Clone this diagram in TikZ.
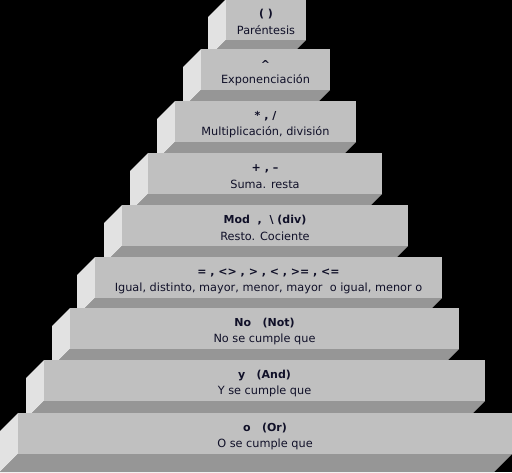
\documentclass[tikz,border=0pt]{standalone}
\usepackage{fontspec}
\setmainfont{DejaVu Sans}
\usepackage{tikz}
\usetikzlibrary{calc}
\definecolor{frontgray}{RGB}{192,192,192}
\definecolor{sidegray}{RGB}{226,226,226}
\definecolor{shadegray}{RGB}{150,150,150}
\definecolor{inkblue}{RGB}{16,16,40}

\tikzset{
  optext/.style={font=\fontsize{11}{12}\selectfont\bfseries, text=inkblue, inner sep=0pt},
  desctext/.style={font=\fontsize{11.3}{12}\selectfont, text=inkblue, inner sep=0pt}
}

\begin{document}
\begin{tikzpicture}[x=1pt, y=-1pt]
  % Background
  \fill[black] (0,0) rectangle (512,472);
  \useasboundingbox (0,0) rectangle (512,472);

  % Steps, top to bottom (lower steps overlap upper ones)
  \foreach \i/\xa/\xb/\ya/\op/\desc in {
    1/226/306/-1/{( )}/{Paréntesis},
    2/201/330/49/{\textasciicircum}/{Exponenciación},
    3/175/356/101/{* , \slash}/{Multiplicación, división},
    4/148/382/153/{+ , \textendash}/{Suma. resta},
    5/122/408/205/{Mod\ \ ,\ \ \textbackslash\ (div)}/{Resto. Cociente},
    6/95/442/257/{= , <> , > , < , >= , <=}/{Igual, distinto, mayor, menor, mayor\ \ o igual, menor o},
    7/70/459/308/{No\ \ \ (Not)}/{No se cumple que},
    8/44/485/360/{y\ \ \ (And)}/{Y se cumple que},
    9/18/512/413/{o\ \ \ (Or)}/{O se cumple que}}{
    % side and bottom faces
    \fill[sidegray] (\xa,\ya) -- (\xa-18,\ya+18) -- (\xa-18,\ya+59) -- (\xa,\ya+41) -- cycle;
    \fill[shadegray] (\xa,\ya+41) -- (\xb,\ya+41) -- (\xb-18,\ya+59) -- (\xa-18,\ya+59) -- cycle;
    % front face
    \fill[frontgray] (\xa,\ya) rectangle (\xb,\ya+41);
    \node[optext] (op\i) at ({(\xa+\xb)/2},\ya+15.5) {\op};
    \node[desctext] (desc\i) at ({(\xa+\xb)/2},\ya+31.5) {\desc};
  }
\end{tikzpicture}
\end{document}
